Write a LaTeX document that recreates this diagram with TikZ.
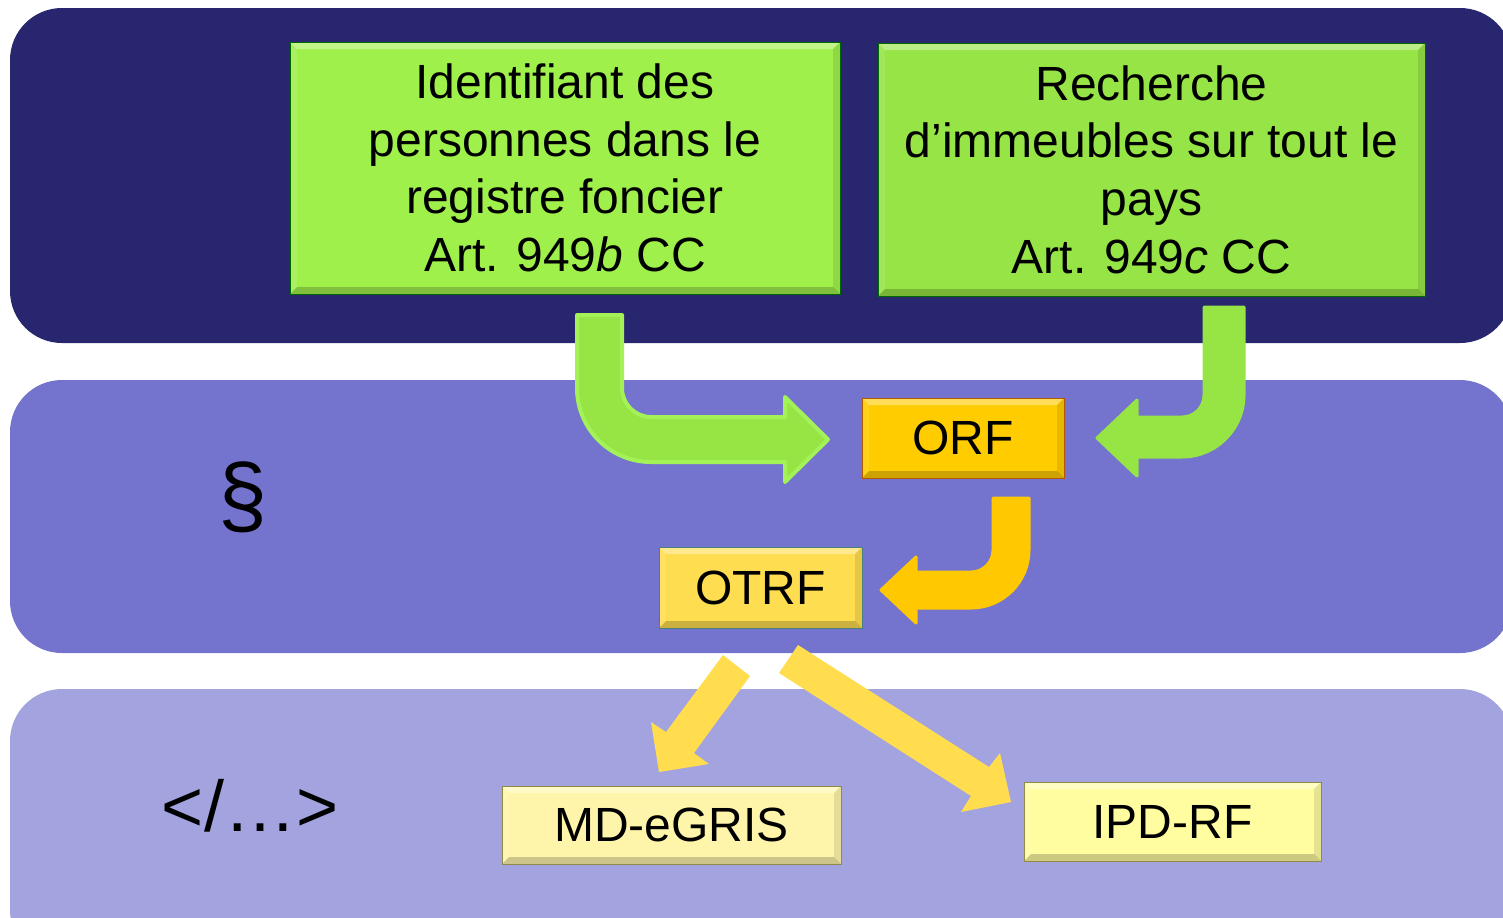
\documentclass[tikz,border=0pt]{standalone}
\usepackage{fontspec}
\setmainfont{Liberation Sans}
\definecolor{navy}{RGB}{39,38,111}
\definecolor{midband}{RGB}{116,116,207}
\definecolor{lowband}{RGB}{163,163,223}
\definecolor{greenA}{RGB}{160,240,76}
\definecolor{greenB}{RGB}{151,228,70}
\definecolor{greenarrow}{RGB}{151,228,69}
\definecolor{greenline}{RGB}{163,242,88}
\definecolor{orfyellow}{RGB}{255,204,0}
\definecolor{otrfyellow}{RGB}{255,221,80}
\definecolor{mdcream}{RGB}{255,245,170}
\definecolor{ipdyellow}{RGB}{255,253,160}
\definecolor{arrowyellow}{RGB}{255,221,79}
\definecolor{arroworange}{RGB}{255,200,0}
\newcommand{\bevelbox}[2]{%
  \fill[white,fill opacity=0.35] (#1.north west) -- (#1.north east) -- ([shift={(-#2,#2)}]#1.north east) -- ([shift={(#2,#2)}]#1.north west) -- cycle;
  \fill[black,fill opacity=0.2] (#1.south west) -- (#1.south east) -- ([shift={(-#2,-#2)}]#1.south east) -- ([shift={(#2,-#2)}]#1.south west) -- cycle;
  \fill[white,fill opacity=0.1] (#1.north west) -- ([shift={(#2,#2)}]#1.north west) -- ([shift={(#2,-#2)}]#1.south west) -- (#1.south west) -- cycle;
  \fill[black,fill opacity=0.1] (#1.north east) -- ([shift={(-#2,#2)}]#1.north east) -- ([shift={(-#2,-#2)}]#1.south east) -- (#1.south east) -- cycle;
}
\tikzset{
  band/.style={rounded corners=26pt},
  box/.style={inner sep=0pt, outer sep=0pt, align=center, font=\fontsize{24}{28.8}\selectfont},
  boxline/.style={draw=black!60, line width=0.5pt},
  blockarrow/.style={line join=round},
}
\begin{document}
\begin{tikzpicture}[x=0.5pt, y=-0.5pt]
\path[use as bounding box] (0,0) rectangle (1503,917);
\begin{scope}
\clip (0,0) rectangle (1503,917);
% bands
\fill[navy, band] (10,8) rectangle (1512,343);
\fill[midband, band] (10,380) rectangle (1512,653);
\fill[lowband, band] (10,689) rectangle (1512,962);
\end{scope}

% side labels
\node[font=\fontsize{44}{50}\selectfont, inner sep=0pt] (para) at (243,497) {§};
\node[font=\fontsize{36}{42}\selectfont, inner sep=0pt] (xml) at (250,806) {</…>};

% boxes
\node[box, fill=greenA, minimum width=275pt, minimum height=126pt] (id) at (565,168)
  {Identifiant des\\personnes dans le\\registre foncier\\Art. 949\textit{b} CC};
\bevelbox{id}{7}
\draw[boxline, draw=green!40!black] (id.north west) rectangle (id.south east);

\node[box, fill=greenB, minimum width=273.5pt, minimum height=126.5pt] (rech) at (1151.5,169.5)
  {Recherche\\d’immeubles sur tout le\\pays\\Art. 949\textit{c} CC};
\bevelbox{rech}{7}
\draw[boxline, draw=green!40!black] (rech.north west) rectangle (rech.south east);

\node[box, fill=orfyellow, minimum width=101pt, minimum height=40pt] (orf) at (963,438) {ORF};
\bevelbox{orf}{7}
\draw[boxline, draw=orange!70!black] (orf.north west) rectangle (orf.south east);

\node[box, fill=otrfyellow, minimum width=101.5pt, minimum height=40.5pt] (otrf) at (760.5,587.5) {OTRF};
\bevelbox{otrf}{7}
\draw[boxline, draw=teal!40!gray] (otrf.north west) rectangle (otrf.south east);

\node[box, fill=mdcream, minimum width=169.5pt, minimum height=39pt] (md) at (671.5,825) {MD-eGRIS};
\bevelbox{md}{7}
\draw[boxline, draw=yellow!50!black] (md.north west) rectangle (md.south east);

\node[box, fill=ipdyellow, minimum width=148.5pt, minimum height=39.5pt] (ipd) at (1172.5,821.5) {IPD-RF};
\bevelbox{ipd}{7}
\draw[boxline, draw=yellow!50!black] (ipd.north west) rectangle (ipd.south east);

% green bent arrow from left box to ORF
\coordinate (g1tip) at (828,439.5);
\filldraw[blockarrow, fill=greenarrow, draw=greenline, line width=2pt]
  (577,315) -- (577,388) .. controls (577,428.9) and (610.1,462) .. (651,462)
  -- (785,462) -- (785,482) -- (g1tip) -- (785,397) -- (785,417)
  -- (651,417) .. controls (635,417) and (622,404) .. (622,388) -- (622,315) -- cycle;

% green bent arrow from right box to ORF
\coordinate (g2tip) at (1097,438);
\filldraw[blockarrow, fill=greenarrow, draw=greenarrow, line width=1.5pt]
  (1244,307) -- (1244,395) .. controls (1244,429.2) and (1216.2,457) .. (1182,457)
  -- (1137,457) -- (1137,476) -- (g2tip) -- (1137,400) -- (1137,417)
  -- (1182,417) .. controls (1194.2,417) and (1204,407.2) .. (1204,395) -- (1204,307) -- cycle;

% orange bent arrow from ORF to OTRF
\coordinate (otip) at (881,590);
\filldraw[blockarrow, fill=arroworange, draw=arroworange, line width=1.5pt]
  (1029,498) -- (1029,550) .. controls (1029,582) and (1003,608) .. (971,608)
  -- (916,608) -- (916,623) -- (otip) -- (916,557) -- (916,572)
  -- (971,572) .. controls (983.2,572) and (993,562.2) .. (993,550) -- (993,498) -- cycle;

% yellow diagonal arrows from OTRF
\coordinate (y1tip) at (659,772);
\fill[arrowyellow]
  (723,655) -- (666,732) -- (651,722) -- (y1tip) -- (709,764) -- (694,753) -- (750,676) -- cycle;
\coordinate (y2tip) at (1011,802);
\fill[arrowyellow]
  (798,645) -- (989,767) -- (1000,753) -- (y2tip) -- (961,812) -- (971,796) -- (779,673) -- cycle;
\end{tikzpicture}
\end{document}
